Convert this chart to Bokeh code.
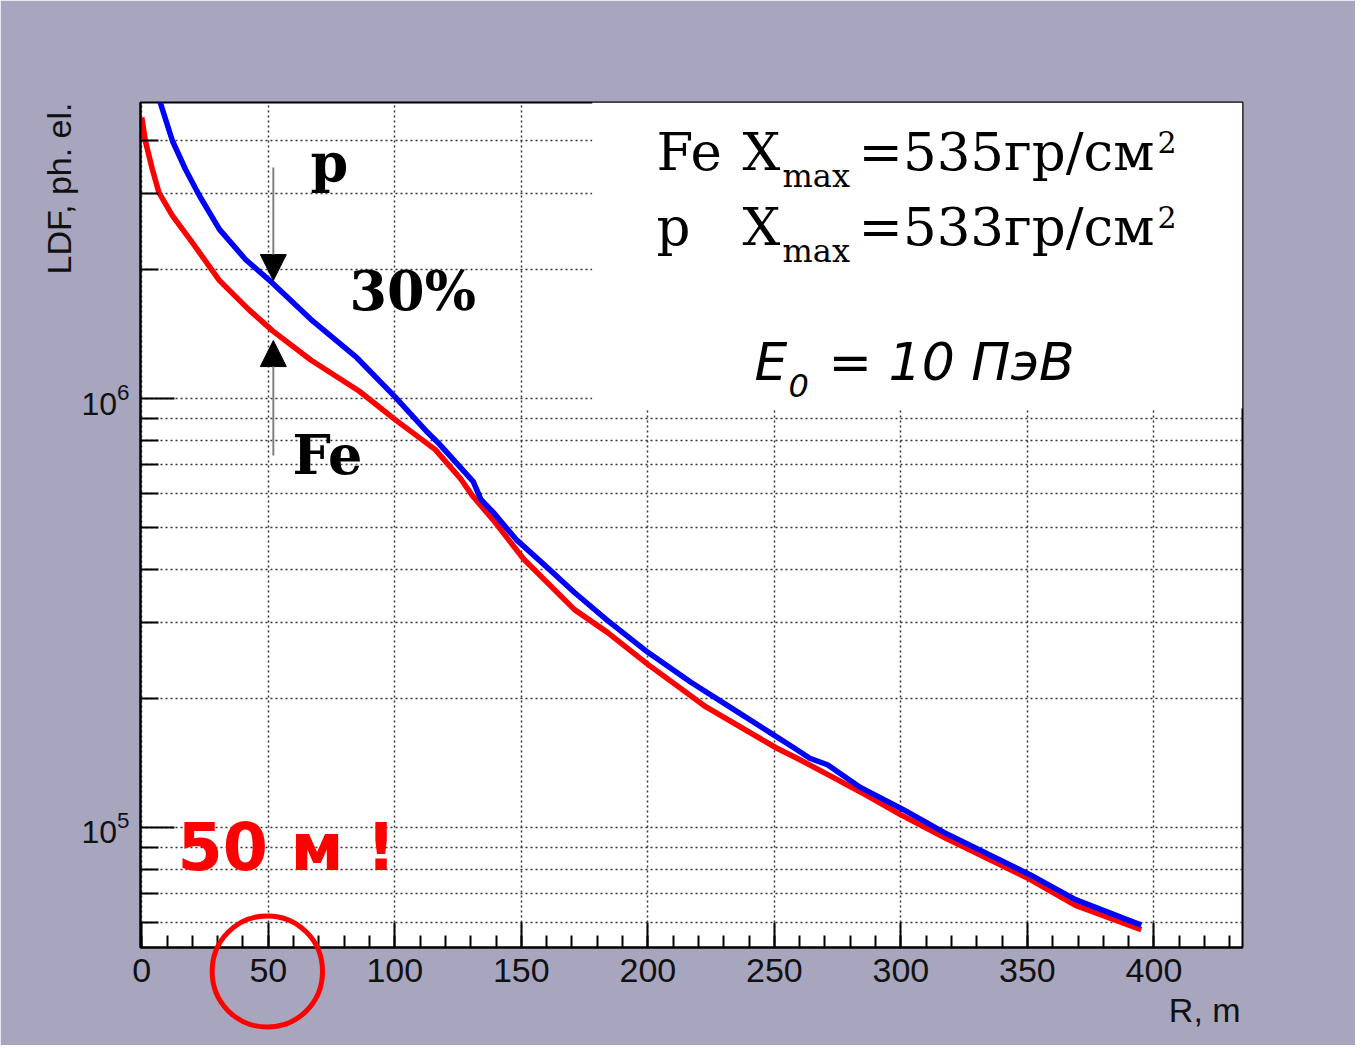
from bokeh.plotting import figure
from bokeh.models import (Range1d, FixedTicker, LogTickFormatter, BoxAnnotation,
                          Label, Arrow, NormalHead, Title)
from bokeh.embed import file_html
from bokeh.resources import INLINE

# ---------------- data ----------------
# Fe (red) lateral distribution function
r_fe = [0, 1.4, 4.2, 6.8, 12.1, 20, 30.5, 42.4, 51.6, 66.8, 86, 100, 116,
        126, 131, 139, 151, 171, 184, 200, 223, 251, 258, 271, 284, 300, 317,
        351, 369, 395]
ldf_fe = [4.52e6, 3.99e6, 3.42e6, 3.02e6, 2.67e6, 2.31e6, 1.89e6, 1.61e6, 1.44e6,
          1.23e6, 1.04e6, 8.94e5, 7.6e5, 6.5e5, 5.9e5, 5.2e5, 4.22e5,
          3.22e5, 2.85e5, 2.40e5, 1.91e5, 1.53e5, 1.46e5, 1.33e5, 1.21e5, 1.07e5,
          9.49e4, 7.57e4, 6.58e4, 5.78e4]
# p (blue) lateral distribution function
r_p = [7.3, 12.1, 17.3, 22.8, 30.7, 41, 51.6, 66.8, 85, 100, 113, 117, 131,
       134, 139, 148, 159, 171, 184, 200, 217, 230, 250, 258, 264, 271, 284, 301,
       317, 351, 369, 395]
ldf_p = [4.9e6, 3.99e6, 3.42e6, 2.97e6, 2.48e6, 2.11e6, 1.86e6, 1.53e6,
         1.245e6, 1.01e6, 8.33e5, 7.9e5, 6.4e5, 5.82e5, 5.42e5, 4.69e5, 4.10e5,
         3.53e5, 3.04e5, 2.56e5, 2.18e5, 1.95e5, 1.64e5, 1.53e5, 1.45e5, 1.40e5,
         1.24e5, 1.10e5, 9.74e4, 7.76e4, 6.79e4, 5.92e4]

x_major_ticks = [0, 50, 100, 150, 200, 250, 300, 350, 400]
x_minor_ticks = list(range(0, 440, 10))
y_major_ticks = [1e5, 1e6]
y_minor_ticks = [6e4, 7e4, 8e4, 9e4, 2e5, 3e5, 4e5, 5e5, 6e5, 7e5, 8e5, 9e5,
                 2e6, 3e6, 4e6]

x_title = "R, m"
y_title = "LDF, ph. el."

# ---------------- layout ----------------
BG = "#a8a5bf"
W, H = 1355, 1045
FL, FT, FW, FH = 140, 102, 1102, 845
PX0 = 8 + FL          # page x of frame left
PY1 = 8 + FT + FH     # page y of frame bottom
SERIF = "DejaVu Serif"
SANS = "DejaVu Sans"
TICKFONT = "Liberation Sans"
NBSP = "\u00a0"


def xdata(px):        # page pixel -> data (for annotation placement)
    return (px - 149.4) / 2.531


def ydata(py):
    return 10 ** (6 + (406 - py) / 429.0)


p = figure(width=W, height=H, y_axis_type="log",
           x_range=Range1d(-0.5, 435.0), y_range=Range1d(5.25e4, 4.9e6),
           output_backend="svg", toolbar_location=None,
           min_border_left=FL, min_border_top=FT,
           min_border_right=W - FL - FW, min_border_bottom=H - FT - FH,
           border_fill_color=BG, background_fill_color="white",
           outline_line_color="black", outline_line_width=2)

xt = FixedTicker(ticks=x_major_ticks, minor_ticks=x_minor_ticks)
yt = FixedTicker(ticks=y_major_ticks, minor_ticks=y_minor_ticks)
xa = p.xaxis[0]
ya = p.yaxis[0]
xa.ticker = xt
ya.ticker = yt
ya.formatter = LogTickFormatter()
p.xgrid[0].ticker = xt
p.ygrid[0].ticker = yt

for ax in (xa, ya):
    ax.axis_line_color = "black"
    ax.axis_line_width = 2
    ax.major_tick_line_color = "black"
    ax.major_tick_line_width = 2
    ax.minor_tick_line_color = "black"
    ax.minor_tick_line_width = 2
    ax.major_tick_out = 0
    ax.minor_tick_out = 0
    ax.major_label_text_font = TICKFONT
    ax.major_label_text_color = "#111111"
    ax.axis_label_text_font = TICKFONT
    ax.axis_label_text_font_size = "34px"
    ax.axis_label_text_font_style = "normal"
    ax.axis_label_text_color = "#111111"

xa.major_label_text_font_size = "34px"
ya.major_label_text_font_size = "32px"
xa.major_tick_in = 25
xa.minor_tick_in = 12
xa.major_label_standoff = 11
# the title is centred on the axis end; trailing no-break spaces push it inside
xa.axis_label = x_title + NBSP * 8
xa.axis_label_standoff = 6
try:
    xa.axis_label_align = "end"
except Exception:
    pass
ya.major_tick_in = 34
ya.minor_tick_in = 18
ya.major_label_standoff = 11

# y title, top-aligned, in the left side panel
p.add_layout(Title(text=y_title, align="right", text_font=TICKFONT, text_font_size="34px",
                   text_font_style="normal", text_color="#111111", standoff=2), "left")

for g in (p.xgrid[0], p.ygrid[0]):
    g.grid_line_color = "#333333"
    g.grid_line_dash = "2 3"
    g.grid_line_width = 1.5
p.ygrid[0].minor_grid_line_color = "#333333"
p.ygrid[0].minor_grid_line_dash = "2 3"
p.ygrid[0].minor_grid_line_width = 1.5

# white box behind the legend text (covers the grid there)
p.add_layout(BoxAnnotation(left=xdata(600), bottom=ydata(416), fill_color="white",
                           fill_alpha=1.0, line_alpha=0.0, level="glyph"))

# curves
p.line(r_fe, ldf_fe, line_color="#ff0000", line_width=5.5, line_join="round")
p.line(r_p, ldf_p, line_color="#0000ff", line_width=5.5, line_join="round")

# arrows
for ys, ye in ((175, 288), (463, 348)):
    p.add_layout(Arrow(x_start=xdata(281), y_start=ydata(ys), x_end=xdata(281), y_end=ydata(ye),
                       line_color="#808080", line_width=2,
                       end=NormalHead(size=26, fill_color="black", line_color="black",
                                      line_width=1)))


def lab(text, px, py, size, font, style="normal", color="black"):
    # py = page y of the text baseline; the rendered baseline sits ~0.36 em lower
    p.add_layout(Label(x=px - PX0, y=PY1 - py + 0.36 * size, x_units="screen", y_units="screen",
                       text=text, text_font=font, text_font_size=f"{size}px",
                       text_font_style=style, text_color=color,
                       text_align="left", text_baseline="alphabetic"))


lab("p", 318, 190, 54, SERIF, "bold")
lab("30%", 357, 318, 54, SERIF, "bold")
lab("Fe", 300, 482, 54, SERIF, "bold")

lab("Fe", 664, 178, 53, SERIF)
lab("X", 750, 178, 53, SERIF)
lab("max", 790, 195, 32, SERIF)
lab("=535гр/см", 866, 178, 53, SERIF)
lab("2", 1165, 160, 30, SERIF)
lab("p", 664, 253, 53, SERIF)
lab("X", 750, 253, 53, SERIF)
lab("max", 790, 270, 32, SERIF)
lab("=533гр/см", 866, 253, 53, SERIF)
lab("2", 1165, 235, 30, SERIF)

lab("E", 762, 388, 52, SANS, "italic")
lab("0", 796, 405, 32, SANS, "italic")
lab("= 10 ПэВ", 836, 388, 52, SANS, "italic")

lab("50 м !", 185, 878, 65, SANS, "bold", "#ff0000")

# red circle round the "50" tick label (placed in a side panel so it is not clipped)
ring = Label(x=xdata(275), y=ydata(979), x_units="data", y_units="data", text=" ",
             text_font_size="1px", text_align="center", text_baseline="middle",
             padding=55, border_radius=55, border_line_color="#ff0000",
             border_line_width=5, background_fill_color=None)
p.add_layout(ring, "right")

open("out.html", "w").write(file_html(p, INLINE))
